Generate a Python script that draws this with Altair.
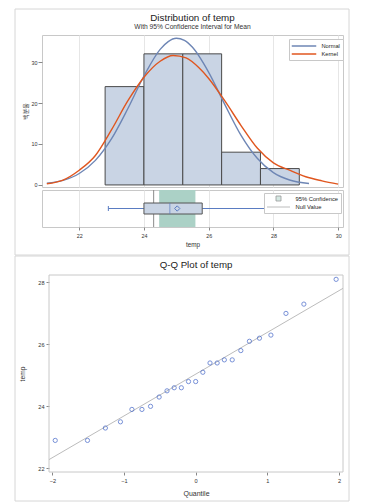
import altair as alt
import pandas as pd

# ---------------- data ----------------
temp = [22.9, 22.9, 23.3, 23.5, 23.9, 23.9, 24.0, 24.3, 24.5, 24.6, 24.6, 24.8, 24.8,
        25.1, 25.4, 25.4, 25.5, 25.5, 25.8, 26.1, 26.2, 26.3, 27.0, 27.3, 28.1]
quantile = [-1.96, -1.51, -1.26, -1.05, -0.89, -0.75, -0.63, -0.51, -0.40, -0.30, -0.20, -0.10, 0.0,
            0.10, 0.20, 0.30, 0.40, 0.51, 0.63, 0.75, 0.89, 1.05, 1.26, 1.51, 1.96]

bin_extent = [22.8, 28.8]
bin_step = 1.2

normal_x = [21.0, 21.5, 22.0, 22.5, 23.0, 23.5, 24.0, 24.5, 24.75, 25.0, 25.25, 25.5,
            26.0, 26.5, 27.0, 27.5, 28.0, 28.5, 29.1]
normal_y = [0.4, 1.1, 2.8, 6.0, 11.3, 18.6, 26.6, 33.1, 35.0, 35.8, 35.3, 33.6,
            27.5, 19.6, 12.1, 6.5, 3.0, 1.2, 0.35]
kernel_x = [21.0, 21.5, 22.0, 22.5, 23.0, 23.5, 24.0, 24.5, 24.9, 25.3, 25.7, 26.0,
            26.5, 27.0, 27.5, 28.0, 28.5, 29.0, 29.5, 30.0]
kernel_y = [0.3, 1.2, 3.6, 7.2, 13.5, 20.5, 26.3, 30.2, 31.6, 31.0, 28.6, 26.0,
            20.5, 14.5, 9.0, 5.4, 3.6, 2.0, 1.0, 0.2]

ci_low = [24.47]
ci_high = [25.59]
null_value = [24.3]

qq_line_x = [-2.047, 2.056]
qq_line_y = [22.28, 27.81]

x_ticks = [22, 24, 26, 28, 30]
pct_ticks = [0, 10, 20, 30]
qq_x_ticks = [-2, -1, 0, 1, 2]
qq_y_ticks = [22, 24, 26, 28]

curve_names = ["Normal", "Kernel"]
legend_items = ["95% Confidence", "Null Value"]

# ---------------- style ----------------
FONT = "Liberation Sans"
KFONT = "Noto Sans CJK KR"
FRAME = "#c8c8c8"
PANEL = "#d6d6d6"
GRID = "#e6e6e6"
BAR_FILL = "#c9d4e4"
BAR_STROKE = "#4a4a4a"
NORMAL_C = "#6e86b5"
KERNEL_C = "#e0561f"
CI_C = "#abd1c6"
BOX_BLUE = "#5a7cc2"
QQ_C = "#3f63c8"

W = 301
H_HIST = 152
H_BOX = 37
H_GAP = 42
H_QQ = 197

df = pd.DataFrame({"temp": temp})
dummy = pd.DataFrame({"a": [0]})

x_temp = alt.Scale(domain=[20.85, 30.15], nice=False, zero=False)
pct_scale = alt.Scale(domain=[-0.5, 36.6], nice=False, zero=True)

hist_x_axis = alt.Axis(values=x_ticks, grid=True, gridColor=GRID, labels=False,
                       ticks=False, domain=False, title=None)
pct_axis = alt.Axis(values=pct_ticks, title="백분율", titleFont=KFONT, titleFontSize=6,
                    titlePadding=3, tickSize=4, labelPadding=1, labelFontSize=5.4,
                    grid=False, domain=False)

# ---------------- histogram panel ----------------
bars = alt.Chart(df).transform_bin(
    "bin_start", "temp", bin=alt.Bin(extent=bin_extent, step=bin_step, nice=False)
).transform_aggregate(
    n="count()", groupby=["bin_start", "bin_start_end"]
).transform_joinaggregate(
    total="sum(n)"
).transform_calculate(
    pct="100 * datum.n / datum.total", base="0"
).mark_bar(fill=BAR_FILL, stroke=BAR_STROKE, strokeWidth=1).encode(
    x=alt.X("bin_start:Q", scale=x_temp, axis=hist_x_axis),
    x2="bin_start_end:Q",
    y=alt.Y("pct:Q", scale=pct_scale, axis=pct_axis),
    y2="base:Q",
)

curve_df = pd.concat([
    pd.DataFrame({"x": normal_x, "y": normal_y, "curve": "Normal"}),
    pd.DataFrame({"x": kernel_x, "y": kernel_y, "curve": "Kernel"}),
], ignore_index=True)

curve_legend = alt.Legend(
    title=None, orient="none", legendX=247, legendY=4,
    symbolType="M-3.5,0L3.5,0", symbolSize=49, symbolStrokeWidth=1.5, symbolOffset=8,
    labelFont=FONT, labelFontSize=5.7, labelColor="#222",
    padding=2.5, strokeColor="#c8c8c8", fillColor="white", rowPadding=0, labelOffset=13,
)

curves = alt.Chart(curve_df).mark_line(strokeWidth=1.4, interpolate="monotone").encode(
    x=alt.X("x:Q", scale=x_temp, axis=hist_x_axis),
    y=alt.Y("y:Q", scale=pct_scale, axis=pct_axis),
    color=alt.Color("curve:N", scale=alt.Scale(domain=curve_names, range=[NORMAL_C, KERNEL_C]),
                    legend=curve_legend),
)

hist = alt.layer(bars, curves).properties(
    width=W, height=H_HIST,
    title=alt.Title("Distribution of temp", subtitle="With 95% Confidence Interval for Mean",
                    fontSize=9.8, subtitleFontSize=6.7, font=FONT, subtitleFont=FONT,
                    fontWeight="normal", color="#222", subtitleColor="#333",
                    anchor="middle", frame="group", offset=3, subtitlePadding=2, dy=-1),
)

# ---------------- box panel ----------------
box_axis = alt.Axis(values=x_ticks, grid=True, gridColor=GRID, title="temp", titleFontSize=6.4,
                    titlePadding=3, labelFontSize=5.4, labelPadding=3, tickSize=3, domain=False)

ci = alt.Chart(pd.DataFrame({"lo": ci_low, "hi": ci_high})).mark_rect(color=CI_C).encode(
    x=alt.X("lo:Q", scale=x_temp, axis=box_axis), x2="hi:Q")
nullr = alt.Chart(pd.DataFrame({"v": null_value})).mark_rule(color="#8a8a8a", strokeWidth=1).encode(
    x=alt.X("v:Q", scale=x_temp, axis=box_axis))
boxp = alt.Chart(df).mark_boxplot(
    extent="min-max", size=11, color=BAR_FILL,
    box={"stroke": "#555555", "strokeWidth": 1},
    median={"color": BOX_BLUE, "strokeWidth": 1.2},
    rule={"color": BOX_BLUE},
    ticks={"color": BOX_BLUE, "size": 5},
).encode(x=alt.X("temp:Q", scale=x_temp, axis=box_axis))
meanp = alt.Chart(df).mark_point(shape="diamond", filled=False, color=BOX_BLUE, size=28,
                                 strokeWidth=1).encode(
    x=alt.X("mean(temp):Q", scale=x_temp, axis=box_axis))

box_legend = alt.Legend(
    title=None, orient="none", legendX=222, legendY=3, symbolSize=25, symbolStrokeWidth=0.8,
    symbolOffset=9, labelFont=FONT, labelFontSize=5.8, labelColor="#222",
    padding=2.5, strokeColor="#c8c8c8", fillColor="white", rowPadding=0.5, labelOffset=14,
)
leg = alt.Chart(pd.DataFrame({"item": pd.Series([], dtype="object")})).mark_point(
    filled=True, strokeWidth=0.8).encode(
    fill=alt.Fill("item:N", scale=alt.Scale(domain=legend_items, range=[CI_C, "transparent"]),
                  legend=box_legend),
    stroke=alt.Stroke("item:N", scale=alt.Scale(domain=legend_items, range=["#707070", "#8a8a8a"]),
                      legend=box_legend),
    shape=alt.Shape("item:N", scale=alt.Scale(domain=legend_items, range=["square", "M-4.6,0L4.6,0"]),
                    legend=box_legend),
)

box = alt.layer(ci, nullr, boxp, meanp, leg).properties(width=W, height=H_BOX)

# ---------------- spacer with panel borders ----------------
p1 = alt.Chart(dummy).mark_rect(fillOpacity=0, stroke=PANEL, strokeWidth=1).encode(
    x=alt.value(-27), x2=alt.value(307), y=alt.value(-221), y2=alt.value(25))
p2 = alt.Chart(dummy).mark_rect(fillOpacity=0, stroke=PANEL, strokeWidth=1).encode(
    x=alt.value(-27), x2=alt.value(307), y=alt.value(26), y2=alt.value(271))
spacer = alt.layer(p1, p2).properties(width=W, height=H_GAP,
                                     view=alt.ViewBackground(strokeOpacity=0))

# ---------------- Q-Q panel ----------------
qq_df = pd.DataFrame({"q": quantile, "temp": temp})
qx = alt.Scale(domain=[-2.047, 2.056], range=[7, W], nice=False, zero=False)
qy = alt.Scale(domain=[21.88, 28.24], nice=False, zero=False)
qx_axis = alt.Axis(values=qq_x_ticks, title="Quantile", titleFontSize=7, titlePadding=6,
                   labelFontSize=5.6, labelPadding=3, tickSize=3, grid=False, domain=False)
qy_axis = alt.Axis(values=qq_y_ticks, title="temp", titleFontSize=6.7, titlePadding=12,
                   labelFontSize=5.6, labelPadding=2, tickSize=3, grid=False, domain=False,
                   offset=-7)

qframe = alt.Chart(dummy).mark_rect(fillOpacity=0, stroke=FRAME, strokeWidth=1).encode(
    x=alt.value(7), x2=alt.value(W), y=alt.value(0), y2=alt.value(H_QQ))
qline = alt.Chart(pd.DataFrame({"q": qq_line_x, "temp": qq_line_y})).mark_line(
    color="#bcbcbc", strokeWidth=1).encode(
    x=alt.X("q:Q", scale=qx, axis=qx_axis), y=alt.Y("temp:Q", scale=qy, axis=qy_axis))
qpts = alt.Chart(qq_df).mark_point(shape="circle", filled=False, color=QQ_C, size=18,
                                   strokeWidth=1).encode(
    x=alt.X("q:Q", scale=qx, axis=qx_axis), y=alt.Y("temp:Q", scale=qy, axis=qy_axis))

qq = alt.layer(qframe, qline, qpts).properties(
    width=W, height=H_QQ, view=alt.ViewBackground(strokeOpacity=0),
    title=alt.Title("Q-Q Plot of temp", fontSize=9.7, font=FONT, fontWeight="normal",
                    color="#222", anchor="middle", frame="group", offset=5, dx=3.5),
)

chart = alt.vconcat(hist, box, spacer, qq, spacing=3, bounds="flush").resolve_scale(
    color="independent", fill="independent", stroke="independent", shape="independent",
).properties(
    padding={"left": 6, "top": 0, "right": 8, "bottom": 0}, background="white",
).configure_view(stroke=FRAME).configure_axis(
    labelFont=FONT, titleFont=FONT, labelColor="#333", titleColor="#333",
    tickColor="#888", titleFontWeight="normal",
).configure_legend(labelFont=FONT)

chart.save("out.html", embed_options={"renderer": "svg", "actions": False})
